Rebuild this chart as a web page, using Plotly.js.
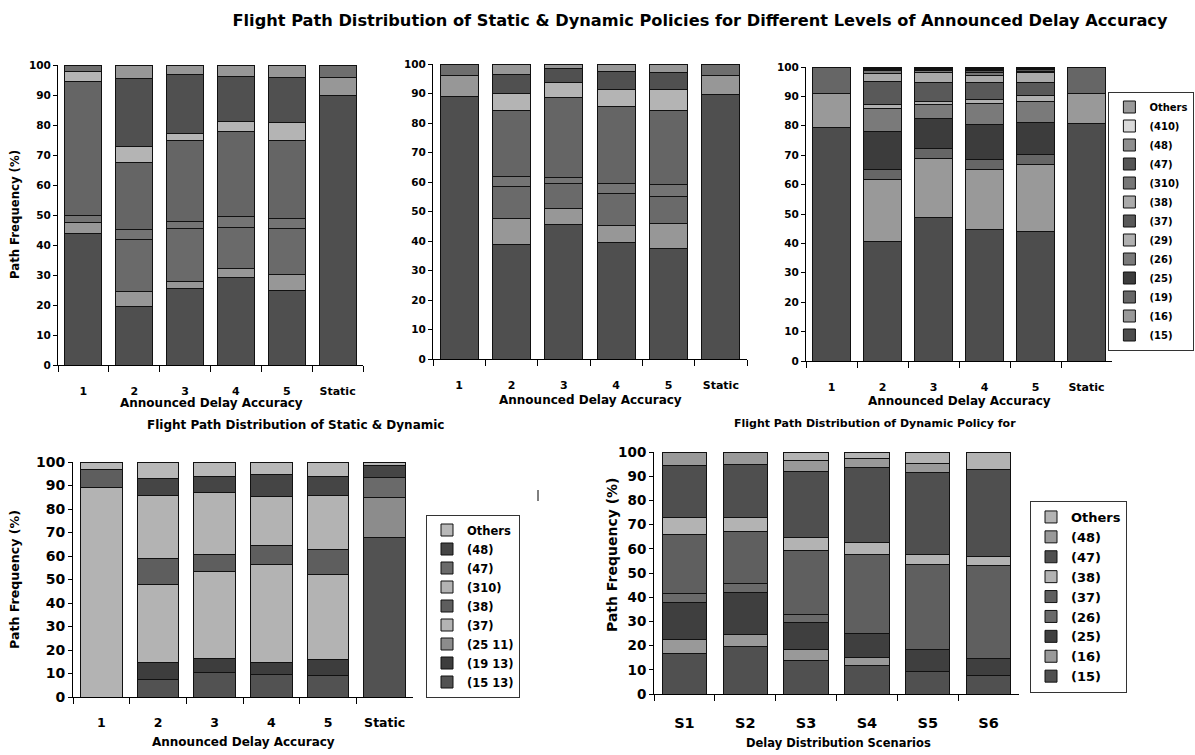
<!DOCTYPE html>
<html>
<head>
<meta charset="utf-8">
<script src="https://cdn.plot.ly/plotly-3.0.1.min.js"></script>
<style>
html,body{margin:0;padding:0;background:#fff;}
#chart{width:1195px;height:755px;}
</style>
</head>
<body>
<div id="chart"></div>
<script>
// ---------- categories ----------
const accuracyLevels = ['1', '2', '3', '4', '5', 'Static'];
const scenarios = ['S1', 'S2', 'S3', 'S4', 'S5', 'S6'];

// ---------- panel 1 (top-left), segments bottom -> top ----------
const p1Seg1 = [44.0, 19.4, 25.6, 29.2, 25.0, 89.8];
const p1Seg2 = [3.6, 5.0, 2.2, 3.1, 5.2, 6.1];
const p1Seg3 = [0, 17.3, 17.8, 13.5, 15.4, 0];
const p1Seg4 = [2.1, 3.6, 2.2, 3.6, 3.2, 0];
const p1Seg5 = [44.8, 22.3, 27.0, 28.6, 26.2, 0];
const p1Seg6 = [3.3, 5.2, 2.4, 3.3, 6.0, 0];
const p1Seg7 = [0, 22.8, 19.7, 15.0, 14.9, 0];
const p1Seg8 = [0, 4.4, 3.1, 3.7, 4.1, 0];
const p1Seg9 = [2.2, 0, 0, 0, 0, 4.1];

// ---------- panel 2 (top-middle) ----------
const p2Seg1 = [88.9, 38.7, 45.5, 39.6, 37.6, 89.7];
const p2Seg2 = [7.1, 9.0, 5.6, 5.7, 8.4, 6.3];
const p2Seg3 = [0, 10.8, 8.3, 10.9, 9.1, 0];
const p2Seg4 = [0, 3.4, 2.2, 3.4, 3.9, 0];
const p2Seg5 = [0, 22.2, 27.0, 26.0, 25.4, 0];
const p2Seg6 = [0, 6.0, 5.1, 5.6, 7.1, 0];
const p2Seg7 = [0, 6.2, 4.7, 6.3, 5.7, 0];
const p2Seg8 = [0, 3.7, 1.6, 2.5, 2.8, 0];
const p2Seg9 = [4.0, 0, 0, 0, 0, 4.0];

// ---------- panel 3 (top-right) ----------
const p3Names = ['(15)', '(16)', '(19)', '(25)', '(26)', '(29)', '(37)', '(38)', '(310)', '(47)', '(48)', '(410)', 'Others'];
const p3_15 = [79.5, 40.8, 48.9, 44.8, 44.0, 80.9];
const p3_16 = [11.6, 20.8, 20.1, 20.4, 22.9, 10.2];
const p3_19 = [8.9, 3.7, 3.4, 3.2, 3.2, 8.9];
const p3_25 = [0, 12.8, 10.2, 11.9, 11.0, 0];
const p3_26 = [0, 7.9, 4.6, 7.2, 7.2, 0];
const p3_29 = [0, 1.2, 1.1, 1.4, 1.9, 0];
const p3_37 = [0, 7.8, 6.5, 5.9, 4.6, 0];
const p3_38 = [0, 2.7, 3.2, 2.4, 3.2, 0];
const p3_310 = [0, 1.0, 0.8, 0.9, 0.6, 0];
const p3_47 = [0, 0.3, 0.3, 0.6, 0.4, 0];
const p3_48 = [0, 0.4, 0.4, 0.6, 0.4, 0];
const p3_410 = [0, 0.3, 0.2, 0.2, 0.2, 0];
const p3_others = [0, 0.3, 0.3, 0.5, 0.4, 0];

// ---------- panel 4 (bottom-left) ----------
const p4Names = ['(15 13)', '(19 13)', '(25 11)', '(37)', '(38)', '(310)', '(47)', '(48)', 'Others'];
const p4_1513 = [0, 7.5, 10.6, 9.6, 9.2, 67.8];
const p4_1913 = [0, 7.1, 5.7, 5.0, 6.7, 0];
const p4_2511 = [0, 0, 0, 0, 0, 17.0];
const p4_37 = [89.1, 33.2, 37.3, 41.9, 36.3, 0];
const p4_38 = [7.6, 11.1, 7.1, 8.0, 10.5, 0];
const p4_310 = [0, 26.9, 26.5, 21.0, 23.1, 0];
const p4_47 = [0, 0, 0, 0, 0, 8.8];
const p4_48 = [0, 7.1, 6.8, 9.1, 8.2, 5.0];
const p4_others = [3.3, 7.1, 6.0, 5.4, 6.0, 1.4];

// ---------- panel 5 (bottom-right) ----------
const p5Names = ['(15)', '(16)', '(25)', '(26)', '(37)', '(38)', '(47)', '(48)', 'Others'];
const p5_15 = [16.9, 19.6, 13.9, 11.8, 9.3, 7.6];
const p5_16 = [5.8, 5.1, 4.4, 3.3, 0, 0];
const p5_25 = [15.1, 17.2, 11.2, 10.0, 9.0, 7.2];
const p5_26 = [3.8, 3.8, 3.5, 0, 0, 0];
const p5_37 = [24.3, 21.3, 26.1, 32.6, 35.4, 38.5];
const p5_38 = [6.9, 5.8, 5.5, 4.9, 4.0, 3.7];
const p5_47 = [21.6, 22.0, 27.4, 30.8, 33.8, 35.9];
const p5_48 = [5.6, 5.2, 4.3, 3.9, 3.7, 0];
const p5_others = [0, 0, 3.7, 2.7, 4.8, 7.1];

// ---------- styling ----------
const FONT = '"DejaVu Sans", "Liberation Sans", sans-serif';
const W = 1195, H = 755;
const px = x => x / W;
const py = y => 1 - y / H;

const segColors = ['#4f4f4f', '#979797', '#6a6a6a', '#747474', '#656565', '#b4b4b4', '#505050', '#979797', '#6e6e6e'];
const p3Colors = ['#4d4d4d', '#999999', '#666666', '#3c3c3c', '#7a7a7a', '#b0b0b0', '#595959', '#aaaaaa', '#777777', '#555555', '#8f8f8f', '#d9d9d9', '#9a9a9a'];
const p4Colors = ['#525252', '#3d3d3d', '#8c8c8c', '#b3b3b3', '#5e5e5e', '#b3b3b3', '#6a6a6a', '#454545', '#b8b8b8'];
const p5Colors = ['#505050', '#999999', '#3f3f3f', '#6a6a6a', '#5f5f5f', '#b3b3b3', '#4f4f4f', '#999999', '#b3b3b3'];

const traces = [];
function addBars(cats, series, names, colors, xa, ya, legendId) {
  series.forEach((vals, i) => {
    traces.push({
      type: 'bar',
      x: cats,
      y: vals,
      name: names[i],
      xaxis: xa,
      yaxis: ya,
      marker: {color: colors[i], line: {color: '#111', width: 1}},
      showlegend: !!legendId,
      legend: legendId || 'legend',
      hoverinfo: 'x+y+name'
    });
  });
}

const segNames = ['Segment 1', 'Segment 2', 'Segment 3', 'Segment 4', 'Segment 5', 'Segment 6', 'Segment 7', 'Segment 8', 'Segment 9'];
addBars(accuracyLevels, [p1Seg1, p1Seg2, p1Seg3, p1Seg4, p1Seg5, p1Seg6, p1Seg7, p1Seg8, p1Seg9], segNames, segColors, 'x', 'y', null);
addBars(accuracyLevels, [p2Seg1, p2Seg2, p2Seg3, p2Seg4, p2Seg5, p2Seg6, p2Seg7, p2Seg8, p2Seg9], segNames, segColors, 'x2', 'y2', null);
addBars(accuracyLevels, [p3_15, p3_16, p3_19, p3_25, p3_26, p3_29, p3_37, p3_38, p3_310, p3_47, p3_48, p3_410, p3_others], p3Names, p3Colors, 'x3', 'y3', 'legend');
addBars(accuracyLevels, [p4_1513, p4_1913, p4_2511, p4_37, p4_38, p4_310, p4_47, p4_48, p4_others], p4Names, p4Colors, 'x4', 'y4', 'legend2');
addBars(scenarios, [p5_15, p5_16, p5_25, p5_26, p5_37, p5_38, p5_47, p5_48, p5_others], p5Names, p5Colors, 'x5', 'y5', 'legend3');

function xAxis(l, r, anchor, fs, standoff) {
  return {
    domain: [px(l), px(r)], anchor: anchor, type: 'category',
    showline: true, linecolor: '#000', linewidth: 1,
    ticks: 'outside', tickson: 'boundaries', ticklen: 6, tickcolor: '#000',
    showgrid: false, zeroline: false, fixedrange: true,
    tickfont: {family: FONT, size: fs, weight: 'bold', color: '#000'},
    ticklabelstandoff: standoff
  };
}
function yAxis(top, bottom, anchor, fs) {
  return {
    domain: [py(bottom), py(top)], anchor: anchor, range: [0, 100],
    tick0: 0, dtick: 10,
    showline: true, linecolor: '#000', linewidth: 1,
    ticks: 'outside', ticklen: 4, tickcolor: '#000',
    showgrid: false, zeroline: false, fixedrange: true,
    tickfont: {family: FONT, size: fs, weight: 'bold', color: '#000'}
  };
}

function txt(text, x, y, size, angle) {
  return {
    text: text, xref: 'paper', yref: 'paper', x: px(x), y: py(y),
    xanchor: 'center', yanchor: 'middle', showarrow: false,
    textangle: angle || 0,
    font: {family: FONT, size: size, weight: 'bold', color: '#000'}
  };
}

const legendBase = {
  bgcolor: '#fff', bordercolor: '#333', borderwidth: 1,
  traceorder: 'reversed', xanchor: 'left', yanchor: 'middle',
  itemclick: false, itemdoubleclick: false
};

const layout = {
  width: W, height: H,
  margin: {l: 0, r: 0, t: 0, b: 0},
  paper_bgcolor: '#fff', plot_bgcolor: '#fff',
  barmode: 'stack', bargap: 0.27,
  title: {
    text: 'Flight Path Distribution of Static & Dynamic Policies for Different Levels of Announced Delay Accuracy',
    x: px(700), xanchor: 'center', y: py(20), yanchor: 'middle', yref: 'paper',
    font: {family: FONT, size: 16.2, weight: 'bold', color: '#000'}
  },
  xaxis: xAxis(58, 363, 'y', 11, 16),
  yaxis: yAxis(65, 365, 'x', 10.5),
  xaxis2: xAxis(433, 747, 'y2', 11, 16),
  yaxis2: yAxis(64, 359, 'x2', 10.5),
  xaxis3: xAxis(806, 1112, 'y3', 11, 16),
  yaxis3: yAxis(67, 361, 'x3', 10.5),
  xaxis4: xAxis(73, 413, 'y4', 12.5, 14),
  yaxis4: yAxis(462, 697, 'x4', 14),
  xaxis5: xAxis(654, 1019, 'y5', 14.5, 16),
  yaxis5: yAxis(452, 694, 'x5', 13.5),
  legend: Object.assign({}, legendBase, {
    x: 0.9995, xanchor: 'right', y: py(221),
    font: {family: FONT, size: 10, weight: 'bold', color: '#000'}
  }),
  legend2: Object.assign({}, legendBase, {
    x: px(426), y: py(606),
    font: {family: FONT, size: 11.5, weight: 'bold', color: '#000'}
  }),
  legend3: Object.assign({}, legendBase, {
    x: px(1030), y: py(597),
    font: {family: FONT, size: 13, weight: 'bold', color: '#000'}
  }),
  annotations: [
    txt('Announced Delay Accuracy', 211, 403, 12),
    txt('Announced Delay Accuracy', 590, 400, 12),
    txt('Announced Delay Accuracy', 959, 401, 12),
    txt('Announced Delay Accuracy', 243, 742, 12),
    txt('Delay Distribution Scenarios', 838, 743, 11.5),
    txt('Path Frequency (%)', 15, 215, 11.7, -90),
    txt('Path Frequency (%)', 14, 580, 12.6, -90),
    txt('Path Frequency (%)', 612, 555, 14, -90),
    txt('Flight Path Distribution of Static & Dynamic', 296, 425, 12),
    txt('Flight Path Distribution of Dynamic Policy for', 875, 423, 11)
  ],
  shapes: [
    {type: 'line', xref: 'paper', yref: 'paper', x0: px(538), x1: px(538), y0: py(490), y1: py(501),
     line: {color: '#000', width: 1}}
  ]
};

Plotly.newPlot('chart', traces, layout, {staticPlot: true, displayModeBar: false});
</script>
</body>
</html>
